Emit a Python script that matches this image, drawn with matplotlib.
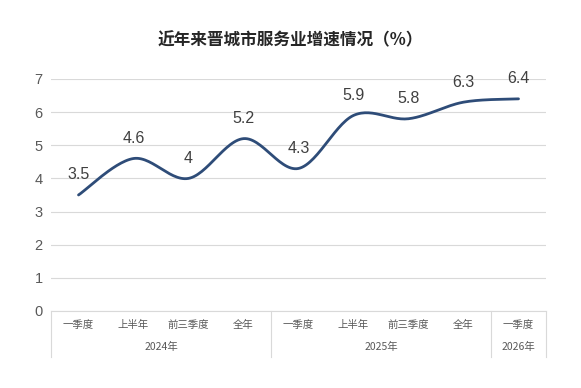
import numpy as np
import matplotlib
matplotlib.use("Agg")
from matplotlib import pyplot as plt

plt.rcParams['font.family'] = ['Liberation Sans', 'Noto Sans CJK SC', 'DejaVu Sans']

title = '近年来晋城市服务业增速情况（%）'
periods = ['一季度', '上半年', '前三季度', '全年', '一季度', '上半年', '前三季度', '全年', '一季度']
years = ['2024年', '2025年', '2026年']
year_counts = [4, 4, 1]
values = [3.5, 4.6, 4, 5.2, 4.3, 5.9, 5.8, 6.3, 6.4]

line_color = '#2E4C78'
grid_color = '#D9D9D9'
text_color = '#595959'


def smooth(xs, ys, n=30):
    # catmull-rom style smoothing, like office charts
    xs = np.asarray(xs, float)
    ys = np.asarray(ys, float)
    px = np.concatenate([[xs[0]], xs, [xs[-1]]])
    py = np.concatenate([[ys[0]], ys, [ys[-1]]])
    out_x, out_y = [], []
    for i in range(1, len(px) - 2):
        t = np.linspace(0, 1, n)
        x0, x1, x2, x3 = px[i - 1:i + 3]
        y0, y1, y2, y3 = py[i - 1:i + 3]
        # bezier control points
        cx1 = x1 + (x2 - x0) / 6
        cy1 = y1 + (y2 - y0) / 6
        cx2 = x2 - (x3 - x1) / 6
        cy2 = y2 - (y3 - y1) / 6
        bx = (1 - t) ** 3 * x1 + 3 * (1 - t) ** 2 * t * cx1 + 3 * (1 - t) * t ** 2 * cx2 + t ** 3 * x2
        by = (1 - t) ** 3 * y1 + 3 * (1 - t) ** 2 * t * cy1 + 3 * (1 - t) * t ** 2 * cy2 + t ** 3 * y2
        out_x.extend(bx)
        out_y.extend(by)
    return np.array(out_x), np.array(out_y)


fig = plt.figure(figsize=(5.81, 3.88), dpi=100)
ax = fig.add_axes([0.0878, 0.1985, 0.852, 0.598])

x = np.arange(len(values))
sx, sy = smooth(x, values)
ax.plot(sx, sy, color=line_color, linewidth=2.0, solid_capstyle='round')

for xi, v in zip(x, values):
    ax.annotate(f'{v:g}', (xi, v), xytext=(0, 9), textcoords='offset points',
                ha='center', va='bottom', fontsize=11.5, color='#404040')

ax.set_xlim(-0.5, len(values) - 0.5)
ax.set_ylim(0, 7)
ax.set_yticks(range(0, 8))
ax.yaxis.grid(True, color=grid_color, linewidth=0.8)
ax.set_axisbelow(True)
ax.tick_params(axis='y', length=0, colors=text_color, labelsize=10.5, pad=6)
ax.set_xticks([])
for s in ['top', 'right', 'left']:
    ax.spines[s].set_visible(False)
ax.spines['bottom'].set_color(grid_color)

# two-level category labels
trans = ax.get_xaxis_transform()
for xi, p in zip(x, periods):
    ax.text(xi, -0.06, p, transform=trans, ha='center', va='center',
            fontsize=7.5, color=text_color, family=['Noto Sans CJK SC'])
start = 0
bounds = [-0.5]
for yr, c in zip(years, year_counts):
    mid = start + (c - 1) / 2
    ax.text(mid, -0.155, yr, transform=trans, ha='center', va='center',
            fontsize=7.5, color=text_color, family=['Noto Sans CJK SC'])
    start += c
    bounds.append(start - 0.5)
for b in bounds:
    ax.plot([b, b], [0, -0.2], transform=trans, color=grid_color,
            linewidth=0.8, clip_on=False)

fig.text(0.5, 0.897, title, ha='center', va='center', fontsize=12,
         fontweight='bold', color='#262626', family=['Noto Sans CJK SC'])

fig.savefig('out.png', dpi=100, facecolor='white')
